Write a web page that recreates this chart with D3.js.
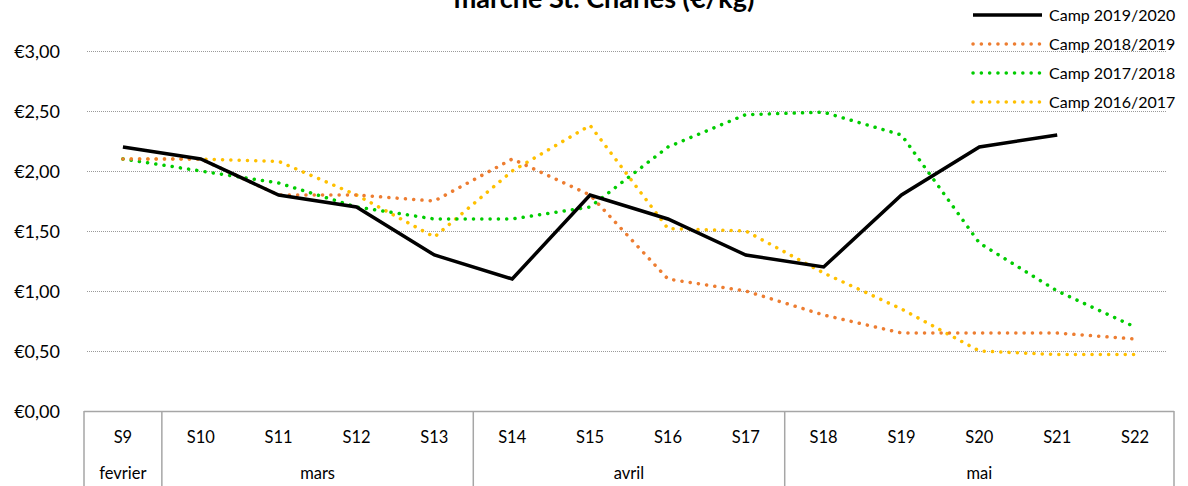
<!DOCTYPE html>
<html><head><meta charset="utf-8">
<script src="https://cdn.jsdelivr.net/npm/d3@7/dist/d3.min.js"></script>
<style>
html,body{margin:0;padding:0;background:#fff;}
svg{display:block;font-family:Lato,"Open Sans",sans-serif;}
</style></head>
<body><svg id="c" width="1188" height="486"></svg>
<script>
const weeks = ["S9","S10","S11","S12","S13","S14","S15","S16","S17","S18","S19","S20","S21","S22"];
const weekMonth = ["fevrier","mars","mars","mars","mars","avril","avril","avril","avril","mai","mai","mai","mai","mai"];
const yTicks = [0,0.5,1,1.5,2,2.5,3];
const camp2019 = [2.20,2.10,1.80,1.70,1.30,1.10,1.80,1.60,1.30,1.20,1.80,2.20,2.30,null];
const camp2018 = [2.10,2.10,1.80,1.80,1.75,2.10,1.80,1.10,1.00,0.80,0.65,0.65,0.65,0.60];
const camp2017 = [2.10,2.00,1.90,1.70,1.60,1.60,1.70,2.20,2.47,2.49,2.30,1.40,1.00,0.70];
const camp2016 = [2.10,2.10,2.08,1.80,1.45,2.00,2.38,1.52,1.50,1.15,0.85,0.50,0.47,0.47];
const seriesNames = ["Camp 2019/2020","Camp 2018/2019","Camp 2017/2018","Camp 2016/2017"];
const title = "marché St. Charles (€/kg)";

const series = [
  {name:seriesNames[0], values:camp2019, color:"#000000", dotted:false},
  {name:seriesNames[1], values:camp2018, color:"#ED7D31", dotted:true},
  {name:seriesNames[2], values:camp2017, color:"#00CC00", dotted:true},
  {name:seriesNames[3], values:camp2016, color:"#FFC000", dotted:true}
];

const svg = d3.select("#c");
const L = 84, R = 1174, T = 51, B = 411;
const x = d3.scaleBand().domain(weeks).range([L,R]).padding(0);
const y = d3.scaleLinear().domain([0,3]).range([B,T]);
const fmt = v => "€" + d3.format(".2f")(v).replace(".",",");

// title
svg.append("text").attr("x",604).attr("y",8).attr("text-anchor","middle")
  .attr("font-size",27).attr("font-weight","bold").attr("fill","#000").text(title);

// gridlines
svg.append("g").selectAll("line").data(yTicks.filter(d=>d>0)).join("line")
  .attr("x1",L+3).attr("x2",R-8).attr("y1",d=>y(d)+0.5).attr("y2",d=>y(d)+0.5)
  .attr("stroke","#9a9a9a").attr("stroke-width",1).attr("stroke-dasharray","1 1");

// y labels
svg.append("g").selectAll("text").data(yTicks).join("text")
  .attr("x",60).attr("y",d=>y(d)+6.5).attr("text-anchor","end")
  .attr("font-size",18).attr("fill","#000").text(fmt);

// category axis box
const boxColor = "#a6a6a6";
const ax = svg.append("g");
ax.append("line").attr("x1",L).attr("x2",R).attr("y1",B+0.5).attr("y2",B+0.5)
  .attr("stroke",boxColor).attr("stroke-width",1.5);
const groups = [];
weeks.forEach((w,i)=>{
  const m = weekMonth[i];
  if(groups.length && groups[groups.length-1].m===m) groups[groups.length-1].w.push(w);
  else groups.push({m:m,w:[w]});
});
const bounds = [L].concat(groups.map(g=>x(g.w[g.w.length-1])+x.bandwidth()));
ax.selectAll("line.v").data(bounds).join("line").attr("class","v")
  .attr("x1",d=>d).attr("x2",d=>d).attr("y1",B).attr("y2",486)
  .attr("stroke",boxColor).attr("stroke-width",1.5);
ax.selectAll("text.w").data(weeks).join("text").attr("class","w")
  .attr("x",d=>x(d)+x.bandwidth()/2).attr("y",443).attr("text-anchor","middle")
  .attr("font-size",16.5).attr("fill","#000").text(d=>d);
ax.selectAll("text.m").data(groups).join("text").attr("class","m")
  .attr("x",g=>(x(g.w[0])+x(g.w[g.w.length-1])+x.bandwidth())/2).attr("y",479)
  .attr("text-anchor","middle").attr("font-size",16.5).attr("fill","#000").text(g=>g.m);

// lines
const line = d3.line().defined(d=>d.v!=null).x(d=>x(d.w)+x.bandwidth()/2).y(d=>y(d.v));
const drawOrder = [series[3],series[2],series[1],series[0]];
drawOrder.forEach(s=>{
  const data = weeks.map((w,i)=>({w:w,v:s.values[i]}));
  const p = svg.append("path").datum(data).attr("d",line).attr("fill","none")
    .attr("stroke",s.color).attr("stroke-width",3.5);
  if(s.dotted) p.attr("stroke-linecap","round").attr("stroke-dasharray","0.1 8.2");
});

// legend
const lg = svg.append("g");
series.forEach((s,i)=>{
  const yy = 15 + i*29;
  const l = lg.append("line").attr("x1",973).attr("x2",1042).attr("y1",yy).attr("y2",yy)
    .attr("stroke",s.color).attr("stroke-width",3.5);
  if(s.dotted) l.attr("stroke-linecap","round").attr("stroke-dasharray","0.1 8.2");
  lg.append("text").attr("x",1049).attr("y",yy+5.5).attr("font-size",16).attr("fill","#000").text(s.name);
});
</script></body></html>
